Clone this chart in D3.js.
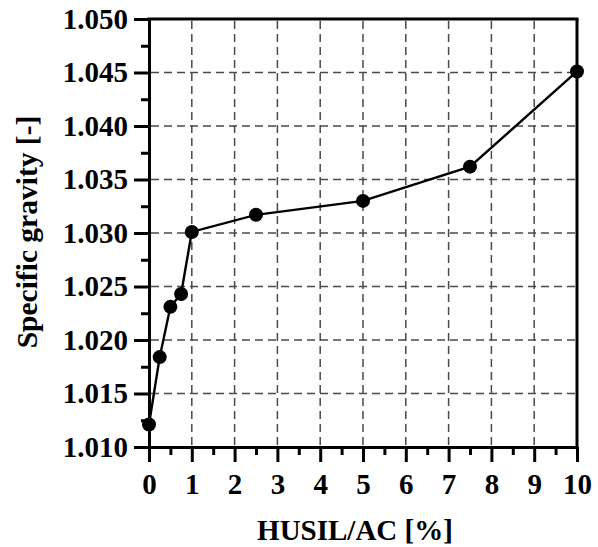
<!DOCTYPE html>
<html>
<head>
<meta charset="utf-8">
<script src="https://cdn.jsdelivr.net/npm/d3@7"></script>
<style>
  body { margin: 0; background: #fff; }
</style>
</head>
<body>
<div id="chart"></div>
<script>
// data
const husil = [0, 0.25, 0.5, 0.75, 1, 2.5, 5, 7.5, 10];
const gravity = [1.0121, 1.0184, 1.0231, 1.0243, 1.0301, 1.0317, 1.0330, 1.0362, 1.0451];
const xTicks = [0, 1, 2, 3, 4, 5, 6, 7, 8, 9, 10];
const yTicks = [1.010, 1.015, 1.020, 1.025, 1.030, 1.035, 1.040, 1.045, 1.050];

const FONT = "'Liberation Serif', 'Times New Roman', Tinos, serif";

const W = 598, H = 547;
const margin = { top: 19, right: 21, bottom: 100, left: 149 };
const width = W - margin.left - margin.right;
const height = H - margin.top - margin.bottom;

const svg = d3.select("#chart").append("svg")
    .attr("width", W)
    .attr("height", H)
    .append("g")
    .attr("transform", `translate(${margin.left}, ${margin.top})`);

const x = d3.scaleLinear().domain([0, 10]).range([0, width]);
const y = d3.scaleLinear().domain([1.010, 1.050]).range([height, 0]);

// dashed grid
svg.append("g")
    .selectAll("line")
    .data(xTicks.slice(1, -1))
    .enter().append("line")
    .attr("x1", d => x(d)).attr("x2", d => x(d))
    .attr("y1", 2).attr("y2", height)
    .attr("stroke", "#4a4a4a").attr("stroke-width", 1.5)
    .attr("stroke-dasharray", "8,5");

svg.append("g")
    .selectAll("line")
    .data(yTicks.slice(1, -1))
    .enter().append("line")
    .attr("y1", d => y(d)).attr("y2", d => y(d))
    .attr("x1", 2).attr("x2", width)
    .attr("stroke", "#4a4a4a").attr("stroke-width", 1.5)
    .attr("stroke-dasharray", "8,5");

// minor ticks
const minorX = d3.range(0.5, 10, 1);
const minorY = d3.range(1.0125, 1.050, 0.005);

svg.append("g")
    .attr("transform", `translate(0, ${height})`)
    .call(d3.axisBottom(x).tickValues(minorX).tickSize(8).tickSizeOuter(0).tickFormat(""))
    .call(g => g.select(".domain").remove())
    .selectAll("line").attr("stroke", "#000").attr("stroke-width", 3);

svg.append("g")
    .call(d3.axisLeft(y).tickValues(minorY).tickSize(8).tickSizeOuter(0).tickFormat(""))
    .call(g => g.select(".domain").remove())
    .selectAll("line").attr("stroke", "#000").attr("stroke-width", 3);

// major axes
const xAxis = svg.append("g")
    .attr("transform", `translate(0, ${height})`)
    .call(d3.axisBottom(x).tickValues(xTicks).tickSize(15).tickSizeOuter(0).tickPadding(11).tickFormat(d3.format("d")));

const yAxis = svg.append("g")
    .call(d3.axisLeft(y).tickValues(yTicks).tickSize(15).tickSizeOuter(0).tickPadding(6).tickFormat(d3.format(".3f")));

[xAxis, yAxis].forEach(a => {
    a.attr("font-family", null);
    a.select(".domain").attr("stroke", "#000").attr("stroke-width", 3);
    a.selectAll(".tick line").attr("stroke", "#000").attr("stroke-width", 3);
    a.selectAll(".tick text")
        .attr("fill", "#000")
        .style("font-family", FONT)
        .style("font-weight", "bold")
        .style("font-size", "29px");
});

// top and right border
svg.append("line")
    .attr("x1", -1.5).attr("x2", width + 1.5)
    .attr("y1", 0).attr("y2", 0)
    .attr("stroke", "#000").attr("stroke-width", 3);
svg.append("line")
    .attr("x1", width).attr("x2", width)
    .attr("y1", 0).attr("y2", height)
    .attr("stroke", "#000").attr("stroke-width", 3);

// line + points
const pts = husil.map((h, i) => ({ h: h, g: gravity[i] }));

svg.append("path")
    .datum(pts)
    .attr("fill", "none")
    .attr("stroke", "#000")
    .attr("stroke-width", 2.4)
    .attr("d", d3.line().x(d => x(d.h)).y(d => y(d.g)));

svg.selectAll(".dot")
    .data(pts)
    .enter().append("circle")
    .attr("class", "dot")
    .attr("cx", d => x(d.h))
    .attr("cy", d => y(d.g))
    .attr("r", 7)
    .attr("fill", "#000");

// axis titles
svg.append("text")
    .attr("x", 206)
    .attr("y", height + 93)
    .attr("text-anchor", "middle")
    .style("font-family", FONT)
    .style("font-weight", "bold")
    .style("font-size", "29px")
    .text("HUSIL/AC [%]");

svg.append("text")
    .attr("transform", "rotate(-90)")
    .attr("x", -(232 - margin.top))
    .attr("y", 37 - margin.left)
    .attr("text-anchor", "middle")
    .style("font-family", FONT)
    .style("font-weight", "bold")
    .style("font-size", "29.5px")
    .text("Specific gravity [-]");
</script>
</body>
</html>
